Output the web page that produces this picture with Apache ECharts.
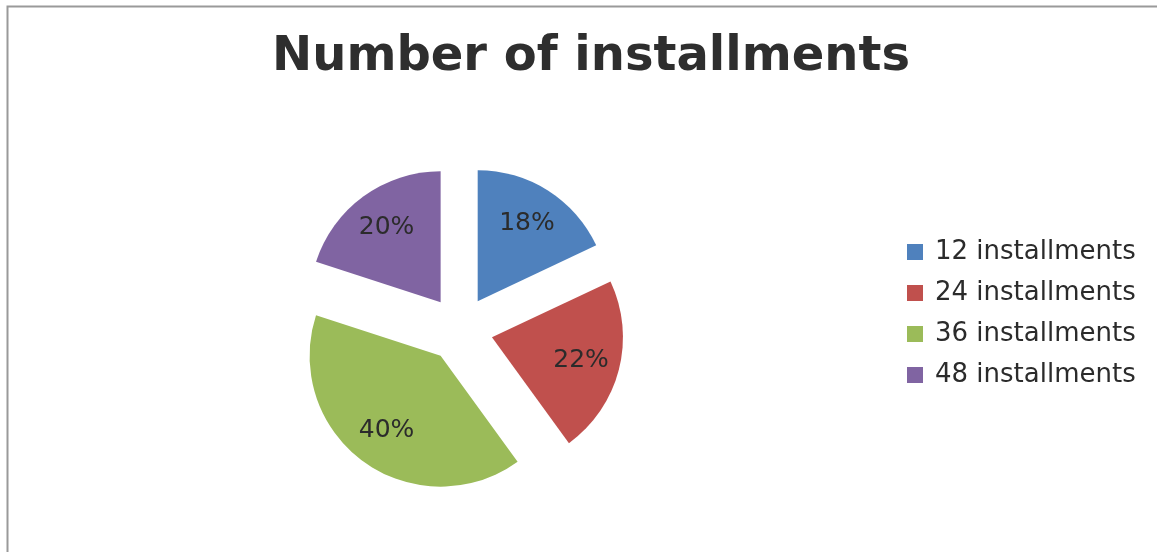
<!DOCTYPE html>
<html>
<head>
<meta charset="utf-8">
<script src="https://cdn.jsdelivr.net/npm/echarts@6/dist/echarts.min.js"></script>
<style>
  html, body { margin: 0; padding: 0; background: #fff; }
  #chart { width: 1157px; height: 552px; }
</style>
</head>
<body>
<div id="chart"></div>
<script>
// Share of loans by number of installments
const categories = ['12 installments', '24 installments', '36 installments', '48 installments'];
const shares = [18, 22, 40, 20];
const colors = ['#4F81BD', '#C0504D', '#9BBB59', '#8064A2'];

const FONT = '"DejaVu Sans", Verdana, sans-serif';

const sliceData = categories.map((name, i) => ({
  name: name,
  value: shares[i],
  selected: true,
  itemStyle: { color: colors[i] }
}));

const labelData = categories.map((name, i) => ({
  name: name,
  value: shares[i],
  selected: true
}));

const chart = echarts.init(document.getElementById('chart'), null, { renderer: 'canvas' });

chart.setOption({
  backgroundColor: '#ffffff',
  animation: false,
  graphic: [{
    type: 'rect',
    left: 5,
    top: 4,
    shape: { width: 1200, height: 600 },
    style: { fill: 'none', stroke: '#9a9a9a', lineWidth: 2 },
    silent: true,
    z: -10
  }],
  title: {
    text: 'Number of installments',
    left: 586,
    textAlign: 'center',
    top: 29,
    textStyle: {
      fontFamily: FONT,
      fontWeight: 'bold',
      fontSize: 48,
      color: '#2e2e2e'
    }
  },
  legend: {
    orient: 'vertical',
    left: 907,
    top: 239,
    padding: 0,
    itemWidth: 16,
    itemHeight: 16,
    itemGap: 15,
    icon: 'rect',
    selectedMode: false,
    data: categories,
    textStyle: {
      fontFamily: FONT,
      fontSize: 26,
      color: '#2b2b2b',
      padding: [0, 0, 0, 7]
    }
  },
  series: [
    {
      name: 'slices',
      type: 'pie',
      center: [460, 329],
      radius: [0, 131],
      startAngle: 90,
      clockwise: true,
      selectedMode: 'multiple',
      selectedOffset: 33,
      silent: true,
      label: { show: false },
      labelLine: { show: false },
      emphasis: { disabled: true },
      itemStyle: { borderWidth: 0 },
      data: sliceData
    },
    {
      // transparent ring carrying the percentage labels further out in each slice
      name: 'labels',
      type: 'pie',
      center: [460, 329],
      radius: [47, 131],
      startAngle: 90,
      clockwise: true,
      selectedMode: 'multiple',
      selectedOffset: 33,
      silent: true,
      itemStyle: { color: 'rgba(0,0,0,0)', borderWidth: 0 },
      emphasis: { disabled: true },
      labelLine: { show: false },
      label: {
        show: true,
        position: 'inside',
        formatter: (p) => p.value + '%',
        fontFamily: FONT,
        fontSize: 25,
        color: '#2b2b2b'
      },
      data: labelData
    }
  ]
});
</script>
</body>
</html>
